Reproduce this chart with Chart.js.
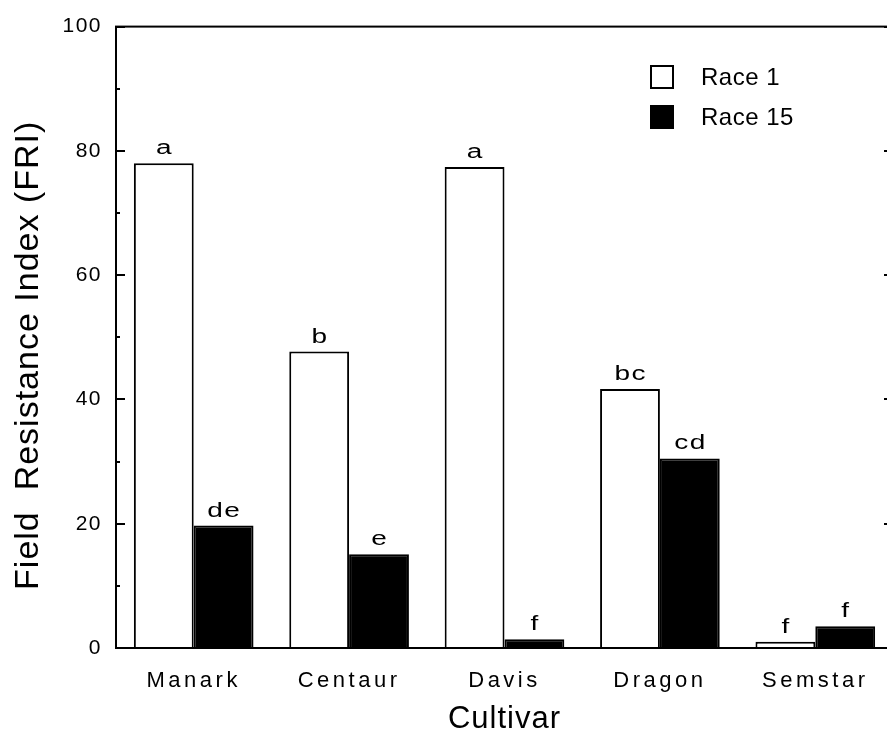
<!DOCTYPE html>
<html><head><meta charset="utf-8">
<script src="https://cdn.jsdelivr.net/npm/chart.js@4.4.0/dist/chart.umd.min.js"></script>
<style>
html,body{margin:0;padding:0;background:#fff;overflow:hidden;width:887px;height:735px}
#wrap{width:887px;height:735px;overflow:hidden;position:relative}
canvas{display:block}
</style></head>
<body><div id="wrap"><canvas id="c" width="900" height="735"></canvas></div>
<script>
const categories = ['Manark', 'Centaur', 'Davis', 'Dragon', 'Semstar'];
const race1 = [78.0, 47.7, 77.4, 41.7, 1.0];
const race15 = [19.7, 15.1, 1.4, 30.5, 3.5];
const letters1 = ['a', 'b', 'a', 'bc', 'f'];
const letters15 = ['de', 'e', 'f', 'cd', 'f'];
const seriesNames = ['Race 1', 'Race 15'];
const yTickValues = [0, 20, 40, 60, 80, 100];
const yMinorValues = [10, 30, 50, 70, 90];
const xTitle = 'Cultivar';
const yTitle = 'Field  Resistance Index (FRI)';

const FONT = "'Liberation Sans', Arial, Helvetica, sans-serif";

// per-scale text styling (letter spacing / offsets) applied around the library's own drawing
function patchScale(s, labelSpacing, titleSpacing, titleShift) {
  const proto = Object.getPrototypeOf(s);
  s.drawLabels = function (area) {
    const c = this.ctx; c.save(); c.letterSpacing = labelSpacing;
    proto.drawLabels.call(this, area); c.restore();
  };
  s.drawTitle = function () {
    const c = this.ctx; c.save(); c.letterSpacing = titleSpacing;
    c.translate(titleShift[0], titleShift[1]);
    proto.drawTitle.call(this); c.restore();
  };
}

const framePlugin = {
  id: 'frame',
  afterDraw(chart) {
    const {ctx, chartArea: a, scales: {y}} = chart;
    ctx.save();
    ctx.strokeStyle = '#000';
    ctx.lineWidth = 2;
    ctx.strokeRect(a.left, a.top, a.right - a.left, a.bottom - a.top);
    const drawTick = (v, len) => {
      const py = Math.round(y.getPixelForValue(v));
      ctx.beginPath();
      ctx.moveTo(a.left, py); ctx.lineTo(a.left + len, py);
      ctx.moveTo(a.right, py); ctx.lineTo(a.right - len, py);
      ctx.stroke();
    };
    yTickValues.forEach(v => drawTick(v, 9));
    yMinorValues.forEach(v => drawTick(v, 4));
    ctx.restore();
  }
};

const letterPlugin = {
  id: 'letters',
  afterDatasetsDraw(chart) {
    const ctx = chart.ctx;
    const sets = [letters1, letters15];
    chart.data.datasets.forEach((ds, di) => {
      const meta = chart.getDatasetMeta(di);
      meta.data.forEach((el, i) => {
        ctx.save();
        ctx.fillStyle = '#000';
        ctx.font = '20px ' + FONT;
        ctx.letterSpacing = '1px';
        ctx.textAlign = 'center';
        ctx.textBaseline = 'alphabetic';
        ctx.translate(el.x, el.y - 9);
        ctx.scale(1.4, 1);
        ctx.fillText(sets[di][i], 0.5, 0);
        ctx.restore();
      });
    });
  }
};

const legendPlugin = {
  id: 'customLegend',
  afterDraw(chart) {
    const ctx = chart.ctx;
    ctx.save();
    ctx.font = '24px ' + FONT;
    ctx.letterSpacing = '0.5px';
    ctx.textBaseline = 'middle';
    ctx.textAlign = 'left';
    chart.data.datasets.forEach((ds, i) => {
      const bx = 651, by = 66 + i * 40;
      ctx.fillStyle = ds.backgroundColor;
      ctx.fillRect(bx, by, 22, 22);
      ctx.strokeStyle = '#000';
      ctx.lineWidth = 2;
      ctx.strokeRect(bx, by, 22, 22);
      ctx.fillStyle = '#000';
      ctx.fillText(ds.label, 701, by + 12);
    });
    ctx.restore();
  }
};

new Chart(document.getElementById('c'), {
  type: 'bar',
  data: {
    labels: categories,
    datasets: [
      {label: seriesNames[0], data: race1, backgroundColor: '#ffffff', borderColor: '#000000', borderWidth: 2},
      {label: seriesNames[1], data: race15, backgroundColor: '#000000', borderColor: '#000000', borderWidth: 2}
    ]
  },
  options: {
    responsive: false,
    animation: false,
    layout: {padding: {top: 20, right: 7, bottom: 0, left: 0}},
    datasets: {bar: {categoryPercentage: 0.77, barPercentage: 1.0}},
    plugins: {legend: {display: false}, tooltip: {enabled: false}},
    scales: {
      x: {
        afterFit(s) { s.height = 87; patchScale(s, '3.5px', '1px', [0, 0]); },
        grid: {display: false, drawTicks: false},
        border: {display: false},
        ticks: {padding: 20, color: '#000', font: {family: FONT, size: 22}},
        title: {display: true, text: xTitle, color: '#000', font: {family: FONT, size: 31, lineHeight: 1}, padding: {top: 0, bottom: 0}}
      },
      y: {
        min: 0, max: 100,
        afterFit(s) { s.width = 116; patchScale(s, '1.5px', '1px', [0, 18]); },
        afterBuildTicks(s) { s.ticks = yTickValues.map(v => ({value: v})); },
        grid: {display: false, drawTicks: false},
        border: {display: false},
        ticks: {padding: 14, color: '#000', font: {family: FONT, size: 21}},
        title: {display: true, text: yTitle, color: '#000', font: {family: FONT, size: 34, lineHeight: 1.2}, padding: {top: 8, bottom: 0}}
      }
    }
  },
  plugins: [framePlugin, letterPlugin, legendPlugin]
});
</script>
</body></html>
